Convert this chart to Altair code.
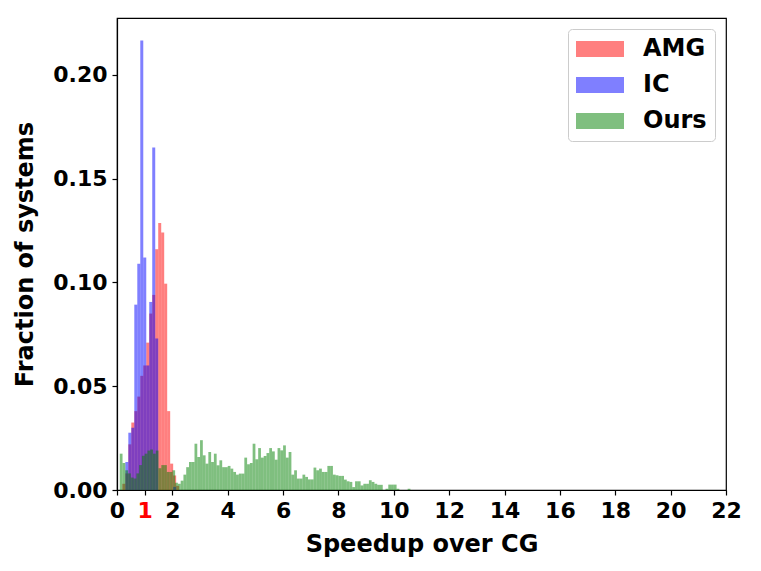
import altair as alt
import pandas as pd

series_names = ["AMG", "IC", "Ours"]
series_colors = ["#ff0000", "#0000ff", "#008000"]

# AMG and IC histograms share one set of bins (left edges, width)
amg_ic_bin_left = [0.193, 0.301, 0.409, 0.517, 0.625, 0.733, 0.841, 0.949, 1.057,
                   1.165, 1.273, 1.381, 1.489, 1.597, 1.705, 1.813, 1.921, 2.029, 2.137]
amg_ic_bin_width = 0.108
amg_frac = [0.003, 0.008, 0.022, 0.0325, 0.038, 0.045, 0.055, 0.060, 0.071,
            0.085, 0.094, 0.116, 0.1286, 0.124, 0.0994, 0.038, 0.0127, 0.007, 0.002]
ic_frac = [0.0, 0.0135, 0.0276, 0.030, 0.0893, 0.109, 0.2166, 0.112, 0.060,
           0.0906, 0.165, 0.073, 0.0, 0.0, 0.0, 0.0, 0.0, 0.0015, 0.0]

# Ours histogram bins (left edges 0.1 ... 10.5, width 0.1)
ours_bin_left = [round(0.1 * i, 1) for i in range(1, 106)]
ours_bin_width = 0.1
ours_frac = [
    0.0175, 0.013, 0.0095, 0.008, 0.006, 0.0055, 0.008, 0.012, 0.0165, 0.0175,   # 0.1-1.0
    0.019, 0.0195, 0.0175, 0.019, 0.0105, 0.012, 0.012, 0.0087, 0.0087, 0.0095,  # 1.1-2.0
    0.0035, 0.003, 0.0045, 0.0074, 0.011, 0.0135, 0.0135, 0.0223, 0.0159, 0.024, # 2.1-3.0
    0.0167, 0.0127, 0.0183, 0.0135, 0.0175, 0.0119, 0.0143, 0.011, 0.011, 0.0116, # 3.1-4.0
    0.0103, 0.0087, 0.0074, 0.0079, 0.0079, 0.0156, 0.0124, 0.013, 0.0223, 0.0148, # 4.1-5.0
    0.0202, 0.0156, 0.0164, 0.0178, 0.0202, 0.0186, 0.0146, 0.0202, 0.0191, 0.0215, # 5.1-6.0
    0.0156, 0.0183, 0.0074, 0.0095, 0.0055, 0.0055, 0.0074, 0.0063, 0.0051, 0.0051, # 6.1-7.0
    0.0108, 0.0095, 0.0103, 0.0087, 0.0087, 0.0116, 0.0116, 0.0074, 0.0071, 0.0068, # 7.1-8.0
    0.0068, 0.0050, 0.0042, 0.0039, 0.0014, 0.0042, 0.0042, 0.0022, 0.0030, 0.0030, # 8.1-9.0
    0.0047, 0.0039, 0.0030, 0.0025, 0.0025, 0.0, 0.0006, 0.0026, 0.0026, 0.0026,   # 9.1-10.0
    0.0006, 0.0, 0.0, 0.0, 0.0006,                                                 # 10.1-10.5
]

x_tick_values = [0, 1, 2, 4, 6, 8, 10, 12, 14, 16, 18, 20, 22]
y_tick_values = [0.0, 0.05, 0.10, 0.15, 0.20]

rows = []
for name, lefts, width, fracs in [
    ("AMG", amg_ic_bin_left, amg_ic_bin_width, amg_frac),
    ("IC", amg_ic_bin_left, amg_ic_bin_width, ic_frac),
    ("Ours", ours_bin_left, ours_bin_width, ours_frac),
]:
    for left, f in zip(lefts, fracs):
        if f > 0:
            rows.append({"method": name, "x0": left, "x1": round(left + width, 4), "frac": f})
df = pd.DataFrame(rows)

FONT = "DejaVu Sans"

chart = alt.Chart(df).mark_rect(opacity=0.5, strokeWidth=0).encode(
    x=alt.X("x0:Q",
            scale=alt.Scale(domain=[0, 22], nice=False, zero=False),
            axis=alt.Axis(values=x_tick_values, title="Speedup over CG", format="d",
                          titlePadding=11,
                          labelColor=alt.expr("datum.value === 1 ? '#ff0000' : '#000000'"))),
    x2="x1:Q",
    y=alt.Y("frac:Q",
            scale=alt.Scale(domain=[0, 0.2274], nice=False),
            axis=alt.Axis(values=y_tick_values, format=".2f", title="Fraction of systems",
                          titlePadding=15)),
    y2=alt.datum(0),
    color=alt.Color("method:N",
                    scale=alt.Scale(domain=series_names, range=series_colors),
                    legend=alt.Legend(
                        title=None, orient="top-right", offset=11,
                        symbolType="M-2,-0.667H2V0.667H-2Z", symbolSize=576,
                        symbolStrokeWidth=0, symbolOpacity=0.5, symbolOffset=12,
                        labelFont=FONT, labelFontWeight="bold", labelFontSize=24,
                        labelColor="#000000", labelOffset=31, rowPadding=12,
                        padding=8, fillColor="white", strokeColor="#cccccc",
                        cornerRadius=4)),
).properties(
    width=609, height=472,
    autosize=alt.AutoSizeParams(type="none"),
    padding={"left": 109, "top": 10, "right": 27, "bottom": 73},
).configure_view(
    stroke="#000000", strokeWidth=1.2
).configure_axis(
    labelFont=FONT, labelFontWeight="bold", labelFontSize=22,
    titleFont=FONT, titleFontWeight="bold", titleFontSize=24,
    tickSize=5, tickWidth=1.2, tickColor="#000000",
    domainColor="#000000", domainWidth=1.2, grid=False,
    labelPadding=5, labelFlush=False,
    labelColor="#000000", titleColor="#000000",
)

chart.save("out.html", embed_options={"renderer": "svg", "actions": False})
